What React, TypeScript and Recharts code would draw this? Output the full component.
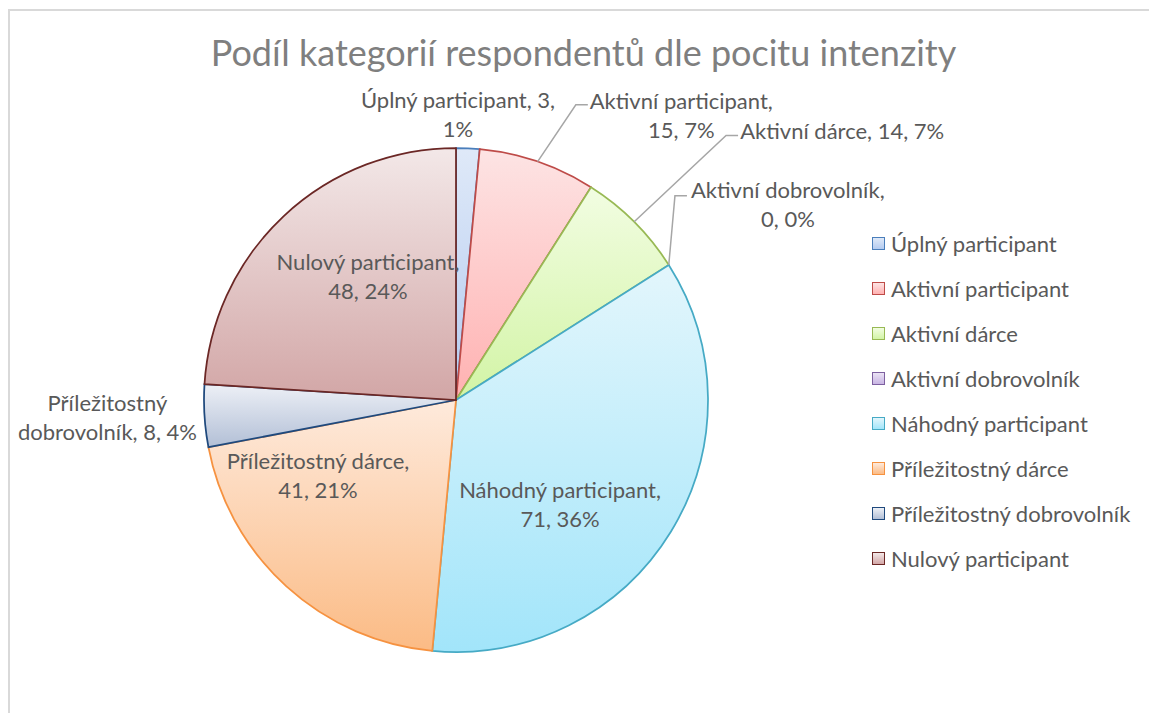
import React from "react";
import { PieChart, Pie, Cell, Legend } from "recharts";

// categories and values
const categories = [
  "Úplný participant",
  "Aktivní participant",
  "Aktivní dárce",
  "Aktivní dobrovolník",
  "Náhodný participant",
  "Příležitostný dárce",
  "Příležitostný dobrovolník",
  "Nulový participant",
];
const counts = [3, 15, 14, 0, 71, 41, 8, 48];
// percentages as printed in the labels
const shownPercents = [1, 7, 7, 0, 36, 21, 4, 24];

const strokes = [
  "#4a7ebb",
  "#be4b48",
  "#98b954",
  "#7d60a0",
  "#46aac5",
  "#f69240",
  "#1f497d",
  "#6b2725",
];
const gradTop = [
  "#dfe9f8",
  "#fde4e4",
  "#f2fde2",
  "#ebe3f5",
  "#e3f6fc",
  "#feeadc",
  "#edf0f6",
  "#f3e8e8",
];
const gradBottom = [
  "#b4cbf0",
  "#ffb1b1",
  "#d2f4a5",
  "#c8b5e3",
  "#a2e5fa",
  "#fbbb85",
  "#b2bfd6",
  "#d2a6a6",
];

const pieData = categories.map((name, i) => ({
  name,
  value: counts[i],
  pct: shownPercents[i],
}));

const FONT = "Lato, 'Open Sans', sans-serif";
const LABEL_SIZE = 22;
const LINE_H = 29;
const TEXT = "#595959";

// label placement: polar offsets relative to each slice's mid angle
type LabelLayout = {
  r: number;
  shift: number;
  align: "left" | "center" | "right";
  v: "first" | "block";
  words: number; // words on the first line, 0 = single line
  leader?: { r: number; shift: number };
};

const labelLayout: LabelLayout[] = [
  { r: 1.135, shift: -2.3, align: "center", v: "block", words: 3 },
  { r: 1.3, shift: 5.2, align: "left", v: "first", words: 2, leader: { r: 1.264, shift: 3.2 } },
  { r: 1.555, shift: 1.5, align: "left", v: "first", words: 0, leader: { r: 1.5, shift: 0.6 } },
  { r: 1.253, shift: -9.5, align: "left", v: "first", words: 2, leader: { r: 1.188, shift: -10.6 } },
  { r: 0.584, shift: 13.5, align: "center", v: "block", words: 2 },
  { r: 0.623, shift: 19.2, align: "center", v: "block", words: 2 },
  { r: 1.03, shift: -0.15, align: "right", v: "block", words: 1 },
  { r: 0.603, shift: 7.8, align: "center", v: "block", words: 2 },
];

let ctx: CanvasRenderingContext2D | null = null;
const measure = (s: string) => {
  if (!ctx) ctx = document.createElement("canvas").getContext("2d");
  if (!ctx) return s.length * 9;
  ctx.font = `${LABEL_SIZE}px Lato`;
  return ctx.measureText(s).width;
};

const RAD = Math.PI / 180;

const renderLabel = (props: any) => {
  const { cx, cy, midAngle, outerRadius, index, payload } = props;
  const L = labelLayout[index];
  const clock = 90 - midAngle;
  const polar = (rf: number, shift: number) => {
    const a = (clock + shift) * RAD;
    return [cx + outerRadius * rf * Math.sin(a), cy - outerRadius * rf * Math.cos(a)];
  };

  const full = `${payload.name}, ${payload.value}, ${payload.pct}%`;
  const words = full.split(" ");
  const lines =
    L.words > 0
      ? [words.slice(0, L.words).join(" "), words.slice(L.words).join(" ")]
      : [full];

  const [px, py] = polar(L.r, L.shift);
  const w = Math.max(...lines.map(measure));
  const x0 = L.align === "left" ? px : L.align === "right" ? px - w : px - w / 2;
  const y0 = L.v === "first" ? py : py - ((lines.length - 1) * LINE_H) / 2;

  let leader = null;
  if (L.leader) {
    const [ex, ey] = polar(1, 0);
    const [bx, by] = polar(L.leader.r, L.leader.shift);
    leader = (
      <path
        d={`M${ex},${ey}L${bx},${by}L${bx + 12},${by}`}
        stroke="#a6a6a6"
        strokeWidth={1.5}
        fill="none"
      />
    );
  }

  return (
    <g key={`lab-${index}`}>
      {leader}
      {lines.map((ln, i) => (
        <text
          key={i}
          x={x0 + w / 2}
          y={y0 + i * LINE_H}
          textAnchor="middle"
          dominantBaseline="central"
          fill={TEXT}
          fontSize={LABEL_SIZE}
          fontFamily={FONT}
        >
          {ln}
        </text>
      ))}
    </g>
  );
};

const LegendBox = () => (
  <div style={{ fontFamily: FONT, fontSize: 22, color: TEXT }}>
    {categories.map((c, i) => (
      <div key={c} style={{ height: 45, display: "flex", alignItems: "center" }}>
        <span
          style={{
            width: 11,
            height: 11,
            border: `1.5px solid ${strokes[i]}`,
            background: `linear-gradient(${gradTop[i]}, ${gradBottom[i]})`,
            marginRight: 6,
            display: "inline-block",
            flex: "none",
          }}
        />
        <span style={{ whiteSpace: "nowrap" }}>{c}</span>
      </div>
    ))}
  </div>
);

export default function App() {
  return (
    <div
      style={{
        position: "fixed",
        left: 8,
        top: 9,
        width: 1139,
        height: 702,
        borderTop: "2px solid #d9d9d9",
        borderLeft: "2px solid #d9d9d9",
        overflow: "hidden",
        background: "#fff",
      }}
    >
      <div
        style={{
          position: "absolute",
          left: 0,
          top: 20,
          width: 1147,
          textAlign: "center",
          fontFamily: FONT,
          fontSize: 36,
          lineHeight: "43px",
          color: "#7f7f7f",
          zIndex: 2,
          whiteSpace: "nowrap",
        }}
      >
        Podíl kategorií respondentů dle pocitu intenzity
      </div>
      <PieChart width={1139} height={702} margin={{ top: 0, right: 0, bottom: 0, left: 0 }}>
        <defs>
          {gradTop.map((c, i) => (
            <linearGradient key={i} id={`g${i}`} x1="0" y1="0" x2="0" y2="1">
              <stop offset="0%" stopColor={c} />
              <stop offset="100%" stopColor={gradBottom[i]} />
            </linearGradient>
          ))}
        </defs>
        <Pie
          data={pieData}
          dataKey="value"
          nameKey="name"
          cx={446}
          cy={389}
          outerRadius={252}
          startAngle={90}
          endAngle={-270}
          label={renderLabel}
          labelLine={false}
          isAnimationActive={false}
        >
          {pieData.map((_, i) => (
            <Cell key={`cell-${i}`} fill={`url(#g${i})`} stroke={strokes[i]} strokeWidth={1.75} />
          ))}
        </Pie>
        <Legend
          content={() => <LegendBox />}
          wrapperStyle={{ left: 862, top: 210, width: 277 }}
        />
      </PieChart>
    </div>
  );
}
